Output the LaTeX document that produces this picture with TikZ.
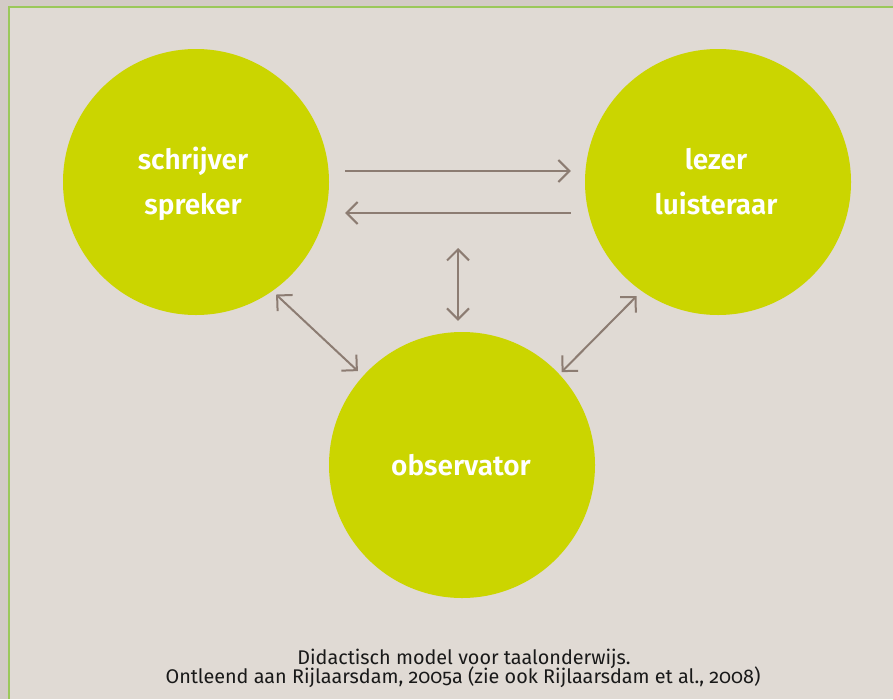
\documentclass[tikz,border=0pt]{standalone}
\usepackage{fontspec}
\setmainfont{Fira Sans}[Numbers=OldStyle]
\newfontfamily\labfont{Fira Sans SemiBold}
\usetikzlibrary{arrows.meta}
\definecolor{bgout}{RGB}{211,203,198}
\definecolor{bgin}{RGB}{224,218,212}
\definecolor{frame}{RGB}{155,200,90}
\definecolor{lime}{RGB}{203,213,0}
\definecolor{arrowc}{RGB}{140,124,114}
\definecolor{captc}{RGB}{25,25,25}
\begin{document}
\begin{tikzpicture}[x=1pt,y=-1pt,
  circ/.style={circle,fill=lime,minimum size=266pt,inner sep=0pt},
  lab/.style={anchor=base,text=white,font=\labfont\fontsize{28}{28}\selectfont,inner sep=0pt},
  capt/.style={anchor=base,text=captc,font=\fontsize{19.8}{21}\selectfont,inner sep=0pt},
  arr/.style={draw=arrowc,line width=2pt,-{Straight Barb[length=11pt,width=22pt,line width=2pt]}},
  darr/.style={draw=arrowc,line width=2pt,{Straight Barb[length=11pt,width=22pt,line width=2pt]}-{Straight Barb[length=11pt,width=22pt,line width=2pt]}}]
\useasboundingbox (0,0) rectangle (893,699);
\fill[bgout] (0,0) rectangle (893,699);
\fill[bgin] (8,6) rectangle (893,699);
\draw[frame,line width=1.8pt] (8.9,699) -- (8.9,6.9) -- (893,6.9);
% circles
\node[circ] (L) at (196,182) {};
\node[circ] (R) at (718,182) {};
\node[circ] (O) at (462,465) {};
% labels
\node[lab] (L1) at (193,169) {schrijver};
\node[lab] (L2) at (193,214) {spreker};
\node[lab] (R1) at (716,169) {lezer};
\node[lab] (R2) at (716,214) {luisteraar};
\node[lab] (O1) at (461,475) {observator};
% connectors
\draw[arr,shorten <=16pt,shorten >=14pt] ([yshift=11pt]L.east) -- ([yshift=11pt]R.west);
\draw[arr,shorten <=14pt,shorten >=16pt] ([yshift=-31pt]R.west) -- ([yshift=-31pt]L.east);
\coordinate (top) at (458,248);
\draw[darr,shorten >=11pt] (top) -- ([xshift=-4pt]O.north);
\draw[darr,shorten <=5pt,shorten >=7pt] (L.-55.6) -- (O.138.5);
\draw[darr,shorten <=7pt,shorten >=3pt] (R.-125.4) -- (O.43.2);
% caption
\node[capt] (C1) at (464,664) {Didactisch model voor taalonderwijs.};
\node[capt] (C2) at (463,683) {Ontleend aan Rijlaarsdam, 2005a (zie ook Rijlaarsdam et al., 2008)};
\end{tikzpicture}
\end{document}
